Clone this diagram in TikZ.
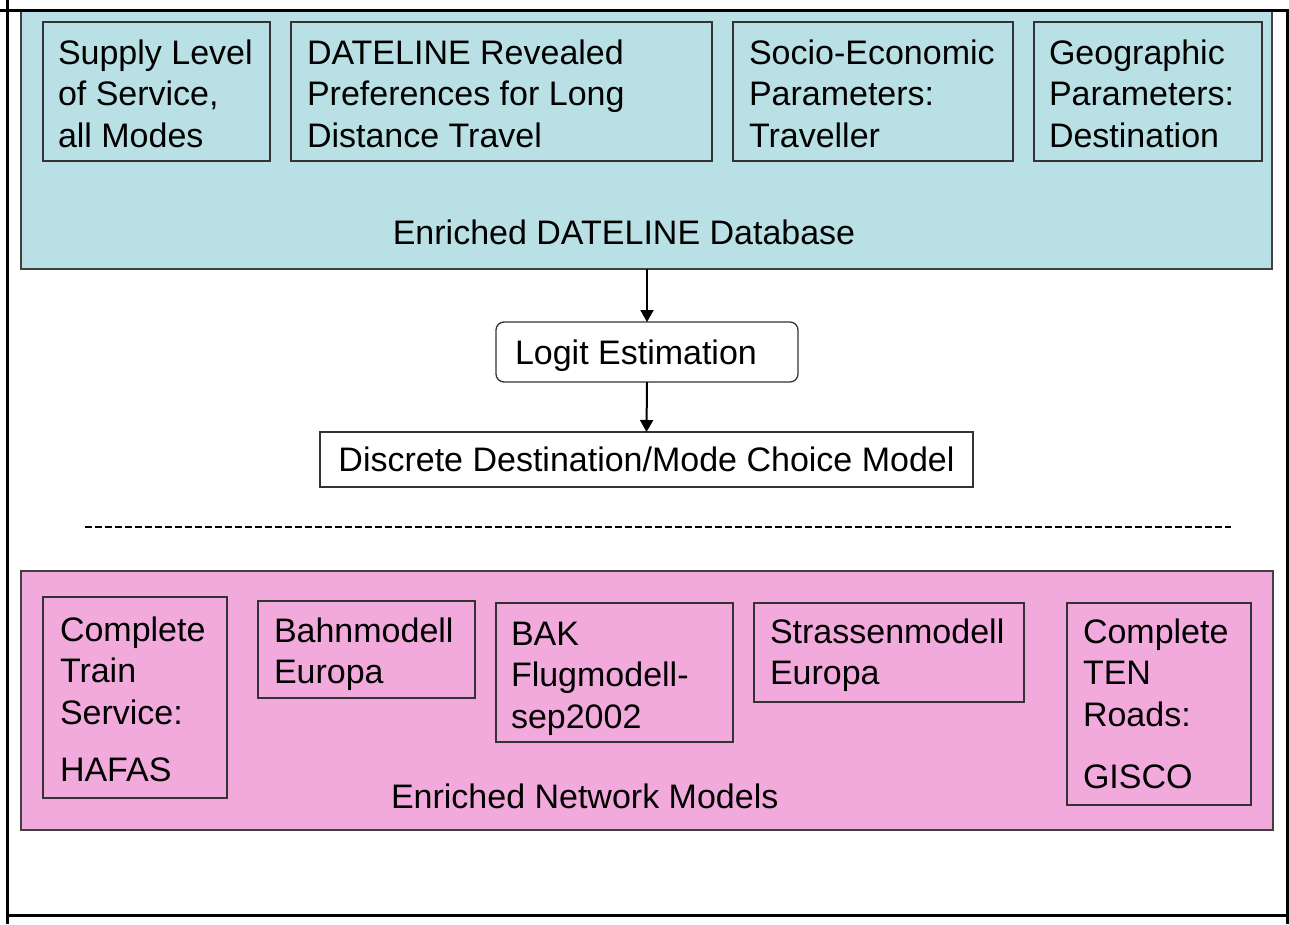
\documentclass[tikz,border=0pt]{standalone}
\usepackage{fontspec}
\setmainfont{Liberation Sans}
\usetikzlibrary{arrows.meta}
\definecolor{dbblue}{RGB}{185,224,228}
\definecolor{netpink}{RGB}{242,170,220}
\begin{document}
\begin{tikzpicture}[x=1pt,y=-1pt,
  frame/.style={line width=3pt,black},
  panel/.style={draw=black!75,line width=1.6pt,anchor=north west,inner sep=0pt,outer sep=0pt},
  ibox/.style={draw=black!80,line width=1.3pt,anchor=north west,inner sep=0pt,outer sep=0pt},
  txt/.style={inner sep=0pt,outer sep=0pt,anchor=base west,font=\fontsize{34}{41.5}\selectfont},
  arr/.style={line width=2pt,-{Triangle[width=13pt,length=12pt]}},
  dashline/.style={line width=2pt,dash pattern=on 6.5pt off 3.5pt},
]
\useasboundingbox (0,0) rectangle (1289,924);

% upper panel
\node[panel,fill=dbblue,minimum width=1251pt,minimum height=259pt] (db) at (21,10) {};
\node[ibox,minimum width=227pt,minimum height=139pt] (b1) at (43,22) {};
\node[ibox,minimum width=421pt,minimum height=139pt] (b2) at (291,22) {};
\node[ibox,minimum width=280pt,minimum height=139pt] (b3) at (733,22) {};
\node[ibox,minimum width=228pt,minimum height=139pt] (b4) at (1034,22) {};
\node[txt] (t1) at (58,64) {\begin{tabular}[t]{@{}l@{}}Supply Level\\of Service,\\all Modes\end{tabular}};
\node[txt] (t2) at (307,64) {\begin{tabular}[t]{@{}l@{}}DATELINE Revealed\\Preferences for Long\\Distance Travel\end{tabular}};
\node[txt] (t3) at (749,64) {\begin{tabular}[t]{@{}l@{}}Socio-Economic\\Parameters:\\Traveller\end{tabular}};
\node[txt] (t4) at (1049,64) {\begin{tabular}[t]{@{}l@{}}Geographic\\Parameters:\\Destination\end{tabular}};
\node[txt,anchor=base] (dbt) at (624,244) {Enriched DATELINE Database};

% middle
\node[ibox,rounded corners=8pt,minimum width=302pt,minimum height=60pt] (logit) at (496,322) {};
\node[txt] (logitt) at (515,364) {Logit Estimation};
\node[ibox,minimum width=653pt,minimum height=55pt,font=\fontsize{34}{41.5}\selectfont] (dcm) at (320,432) {Discrete Destination/Mode Choice Model};
\draw[arr] (logit.north |- db.south) -- (logit.north);
\draw[arr] (logit.south) -- (dcm.north);

\coordinate (dashL) at (85,527);
\coordinate (dashR) at (1231,527);
\draw[dashline] (dashL) -- (dashR);

% lower panel
\node[panel,fill=netpink,minimum width=1252pt,minimum height=259pt] (net) at (21,571) {};
\node[ibox,minimum width=184pt,minimum height=201pt] (p1) at (43,597) {};
\node[ibox,minimum width=217pt,minimum height=97pt] (p2) at (258,601) {};
\node[ibox,minimum width=237pt,minimum height=139pt] (p3) at (496,603) {};
\node[ibox,minimum width=270pt,minimum height=99pt] (p4) at (754,603) {};
\node[ibox,minimum width=184pt,minimum height=202pt] (p5) at (1067,603) {};
\node[txt] (pt1) at (60,641) {\begin{tabular}[t]{@{}l@{}}Complete\\Train\\Service:\\[16pt]HAFAS\end{tabular}};
\node[txt] (pt2) at (274,642) {\begin{tabular}[t]{@{}l@{}}Bahnmodell\\Europa\end{tabular}};
\node[txt] (pt3) at (511,645) {\begin{tabular}[t]{@{}l@{}}BAK\\Flugmodell-\\sep2002\end{tabular}};
\node[txt] (pt4) at (770,643) {\begin{tabular}[t]{@{}l@{}}Strassenmodell\\Europa\end{tabular}};
\node[txt] (pt5) at (1083,643) {\begin{tabular}[t]{@{}l@{}}Complete\\TEN\\Roads:\\[21pt]GISCO\end{tabular}};
\node[txt] (nett) at (391,808) {Enriched Network Models};

% frame
\draw[frame] (0,10) -- (1289,10);
\draw[frame] (7,0) -- (7,924);
\draw[frame] (7,915) -- (1289,915);
\draw[frame] (1287,10) -- (1287,924);
\end{tikzpicture}
\end{document}
